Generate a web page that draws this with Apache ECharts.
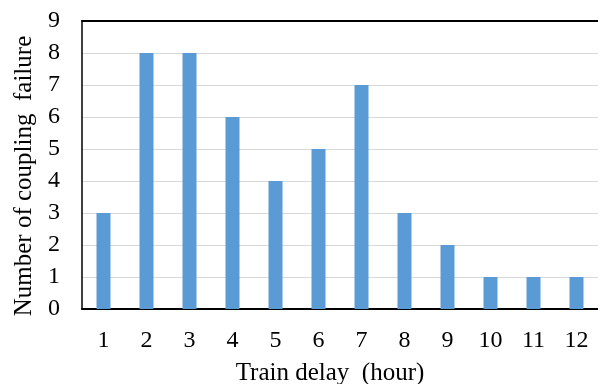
<!DOCTYPE html>
<html>
<head>
<meta charset="utf-8">
<script src="https://cdn.jsdelivr.net/npm/echarts@6/dist/echarts.min.js"></script>
<style>
  html, body { margin: 0; padding: 0; background: #fff; }
  #chart { width: 598px; height: 384px; }
</style>
</head>
<body>
<div id="chart"></div>
<script>
// Train delay (hours) and the count of coupling failures at each delay
const delayHours = ['1', '2', '3', '4', '5', '6', '7', '8', '9', '10', '11', '12'];
const failureCounts = [3, 8, 8, 6, 4, 5, 7, 3, 2, 1, 1, 1];
const yTicks = { min: 0, max: 9, interval: 1 };

const serif = '"Liberation Serif", "Times New Roman", serif';
const chart = echarts.init(document.getElementById('chart'));

chart.setOption({
  animation: false,
  backgroundColor: '#ffffff',
  grid: { left: 82, right: 0, top: 21, bottom: 75, containLabel: false, outerBoundsMode: 'none' },
  xAxis: [
    {
      type: 'category',
      data: delayHours,
      name: 'Train delay  (hour)',
      nameLocation: 'middle',
      nameGap: 52,
      nameTextStyle: { fontFamily: serif, fontSize: 25, color: '#000', padding: [0, 20, 0, 0] },
      axisLine: { lineStyle: { color: '#000', width: 2 } },
      axisTick: { show: false },
      axisLabel: { fontFamily: serif, fontSize: 24, color: '#000', margin: 20 }
    },
    {
      // plain frame line along the top of the plot
      type: 'category',
      data: delayHours,
      position: 'top',
      axisLine: { show: true, lineStyle: { color: '#000', width: 2 } },
      axisTick: { show: false },
      axisLabel: { show: false },
      splitLine: { show: false }
    }
  ],
  yAxis: {
    type: 'value',
    min: yTicks.min,
    max: yTicks.max,
    interval: yTicks.interval,
    name: 'Number of coupling  failure',
    nameLocation: 'middle',
    nameGap: 45,
    nameTextStyle: { fontFamily: serif, fontSize: 25, color: '#000', padding: [0, 22, 0, 0] },
    axisLine: { show: true, lineStyle: { color: '#000', width: 1.5 } },
    axisTick: { show: false },
    axisLabel: { fontFamily: serif, fontSize: 24, color: '#000', margin: 22 },
    splitLine: { show: true, lineStyle: { color: '#d9d9d9', width: 1 } }
  },
  series: [
    {
      type: 'bar',
      data: failureCounts,
      barWidth: 14,
      itemStyle: { color: '#5b9bd5' }
    }
  ]
});
</script>
</body>
</html>
